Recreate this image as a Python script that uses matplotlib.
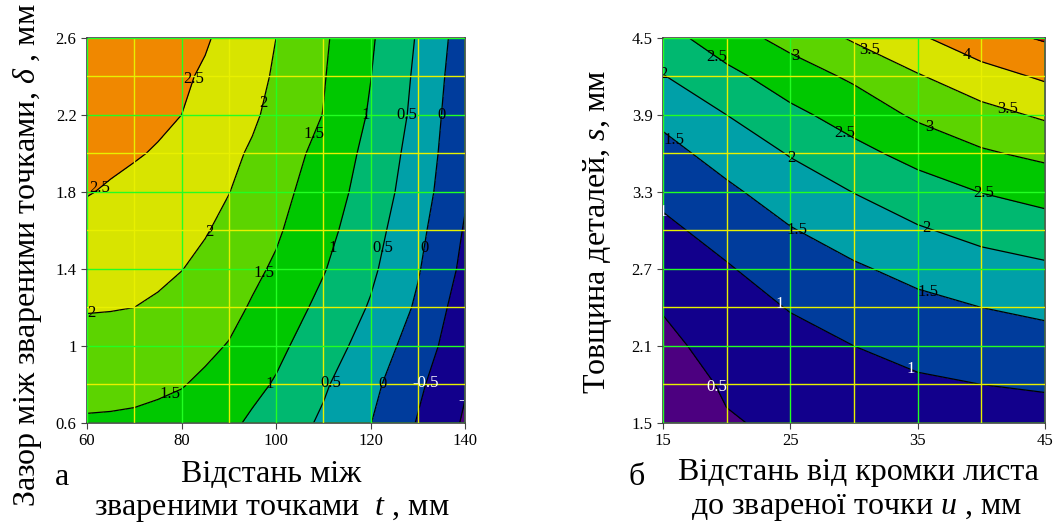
import numpy as np
import matplotlib.pyplot as plt

plt.rcParams['font.family'] = ['Liberation Serif', 'DejaVu Serif']
plt.rcParams['mathtext.fontset'] = 'custom'
plt.rcParams['mathtext.it'] = 'Liberation Serif:italic'
plt.rcParams['mathtext.rm'] = 'Liberation Serif'

# --- panel a: t (mm) x delta (mm), values read at grid nodes
t_vals = [60, 65, 70, 75, 80, 85, 90, 95, 100, 110, 120, 130, 140]
d_vals = [0.6, 0.8, 1.0, 1.2, 1.4, 1.6, 1.8, 2.0, 2.2, 2.4, 2.6]
z_a = [
    [1.45, 1.44, 1.42, 1.39, 1.35, 1.23, 1.09, 0.93, 0.77, 0.43, 0.01, -0.53, -1.06],
    [1.65, 1.64, 1.62, 1.57, 1.52, 1.43, 1.28, 1.11, 0.96, 0.56, 0.13, -0.41, -0.96],
    [1.84, 1.83, 1.81, 1.76, 1.68, 1.58, 1.48, 1.29, 1.11, 0.73, 0.30, -0.24, -0.84],
    [2.03, 2.02, 2.00, 1.94, 1.84, 1.74, 1.62, 1.46, 1.27, 0.88, 0.46, -0.07, -0.76],
    [2.20, 2.17, 2.13, 2.09, 2.01, 1.89, 1.75, 1.59, 1.44, 1.03, 0.59, 0.04, -0.62],
    [2.36, 2.31, 2.27, 2.22, 2.13, 2.03, 1.88, 1.71, 1.56, 1.15, 0.69, 0.13, -0.54],
    [2.52, 2.46, 2.40, 2.35, 2.25, 2.13, 2.01, 1.83, 1.66, 1.25, 0.79, 0.23, -0.45],
    [2.65, 2.58, 2.53, 2.47, 2.38, 2.23, 2.09, 1.95, 1.76, 1.35, 0.86, 0.30, -0.40],
    [2.75, 2.69, 2.63, 2.57, 2.50, 2.34, 2.21, 2.06, 1.88, 1.49, 0.95, 0.37, -0.37],
    [2.83, 2.77, 2.71, 2.64, 2.57, 2.44, 2.29, 2.13, 1.95, 1.53, 1.01, 0.41, -0.31],
    [2.90, 2.84, 2.78, 2.71, 2.65, 2.55, 2.36, 2.18, 2.00, 1.57, 1.06, 0.46, -0.25],
]
levels_a = [-1.5, -1, -0.5, 0, 0.5, 1, 1.5, 2, 2.5, 3]

# --- panel б: u (mm) x s (mm)
u_vals = [15, 20, 25, 30, 35, 40, 45]
s_vals = [1.5, 1.8, 2.1, 2.4, 2.7, 3.0, 3.3, 3.6, 3.9, 4.2, 4.5]
z_b = [
    [0.10, 0.46, 0.59, 0.67, 0.75, 0.79, 0.81],
    [0.23, 0.56, 0.73, 0.82, 0.93, 1.00, 1.05],
    [0.38, 0.69, 0.87, 1.00, 1.15, 1.25, 1.31],
    [0.53, 0.83, 1.02, 1.22, 1.37, 1.50, 1.60],
    [0.72, 0.96, 1.24, 1.44, 1.64, 1.81, 1.92],
    [0.90, 1.17, 1.47, 1.72, 1.95, 2.14, 2.28],
    [1.11, 1.41, 1.74, 2.01, 2.28, 2.51, 2.67],
    [1.34, 1.69, 2.03, 2.36, 2.66, 2.94, 3.11],
    [1.62, 2.00, 2.38, 2.71, 3.08, 3.34, 3.57],
    [1.98, 2.36, 2.76, 3.08, 3.46, 3.80, 4.07],
    [2.30, 2.79, 3.16, 3.56, 3.93, 4.32, 4.55],
]
levels_b = [0, 0.5, 1, 1.5, 2, 2.5, 3, 3.5, 4, 4.5, 5]

fill_colors = ["#4c0080", "#12008c", "#003c9c", "#00a0a8", "#00b870",
               "#00c800", "#5cd400", "#d8e400", "#f08800", "#e80000"]

# where mathcad put the contour labels
lab_a = [(83.2, 2.38), (97.3, 2.26), (107.9, 2.10), (118.8, 2.2), (127.7, 2.2),
         (135.1, 2.2), (63.4, 1.80), (85.3, 1.6), (111.8, 1.51), (122.4, 1.51),
         (130.8, 1.51), (97.3, 1.38), (61, 1.17), (76.9, 0.78), (98.7, 0.80),
         (112.1, 0.80), (122.7, 0.80), (132.6, 0.80), (139.5, 0.78)]
lab_b = [(19.4, 4.37), (25.4, 4.36), (31.1, 4.38), (38.9, 4.38), (15.3, 4.25),
         (42.1, 3.95), (16, 3.72), (36, 3.82), (29.3, 3.76), (25, 3.55),
         (40.2, 3.30), (15.3, 3.2), (25.6, 3.02), (35.7, 3.03), (35.8, 2.52),
         (24.2, 2.43), (34.4, 1.9), (19.2, 1.78)]

fig = plt.figure(figsize=(10.56, 5.29), dpi=100)
ax1 = fig.add_axes([0.0824, 0.2004, 0.358, 0.728])
ax2 = fig.add_axes([0.6278, 0.2004, 0.3617, 0.728])


def panel(ax, x, y, z, levels, labpos, white):
    z = np.array(z)
    n = len(levels) - 1
    ax.contourf(x, y, z, levels=levels, colors=fill_colors[:n])
    cs = ax.contour(x, y, z, levels=levels[1:-1], colors='black',
                    linewidths=0.9, linestyles='solid')
    lab_cols = ['white' if lv in white else 'black' for lv in cs.levels]
    txts = ax.clabel(cs, inline=False, fontsize=12, fmt='%g', manual=labpos,
                     colors=lab_cols)
    for tx in txts:
        tx.set_rotation(0)
    ax.set_axisbelow(False)
    ax.grid(which='major', color='#22ff22', lw=1.0)
    ax.grid(which='minor', color='#e8f000', lw=1.0)
    ax.tick_params(which='major', direction='out', length=4, labelsize=12,
                   color='#444444')
    ax.tick_params(which='minor', length=0)
    for sp in ax.spines.values():
        sp.set_color('#444444')
        sp.set_linewidth(1.2)


panel(ax1, t_vals, d_vals, z_a, levels_a, lab_a, [-1, -0.5])
ax1.set_xlim(60, 140)
ax1.set_ylim(0.6, 2.6)
ax1.set_xticks([60, 80, 100, 120, 140])
ax1.set_xticks([70, 90, 110, 130], minor=True)
ax1.set_yticks([0.6, 1.0, 1.4, 1.8, 2.2, 2.6])
ax1.set_yticklabels(['0.6', '1', '1.4', '1.8', '2.2', '2.6'])
ax1.set_yticks([0.8, 1.2, 1.6, 2.0, 2.4], minor=True)

panel(ax2, u_vals, s_vals, z_b, levels_b, lab_b, [0.5, 1])
ax2.set_xlim(15, 45)
ax2.set_ylim(1.5, 4.5)
ax2.set_xticks([15, 25, 35, 45])
ax2.set_xticks([20, 30, 40], minor=True)
ax2.set_yticks([1.5, 2.1, 2.7, 3.3, 3.9, 4.5])
ax2.set_yticks([1.8, 2.4, 3.0, 3.6, 4.2], minor=True)

fs = 23
fig.text(0.257, 0.0888, "Відстань між", fontsize=fs, ha='center', va='baseline')
fig.text(0.257, 0.0265, "звареними точками  $t$ , мм", fontsize=fs, ha='center', va='baseline')
fig.text(0.059, 0.083, "а", fontsize=fs, ha='center', va='baseline')
fig.text(0.026, 0.518, "Зазор між звареними точками, $\\delta$ , мм", fontsize=fs,
         rotation=90, ha='center', va='center')

fig.text(0.8125, 0.0926, "Відстань від кромки листа", fontsize=fs, ha='center', va='baseline')
fig.text(0.8115, 0.0285, "до звареної точки $u$ , мм", fontsize=fs, ha='center', va='baseline')
fig.text(0.603, 0.083, "б", fontsize=fs, ha='center', va='baseline')
fig.text(0.566, 0.561, "Товщина деталей, $s$, мм", fontsize=fs,
         rotation=90, ha='center', va='center')

fig.savefig('out.png', dpi=100)
